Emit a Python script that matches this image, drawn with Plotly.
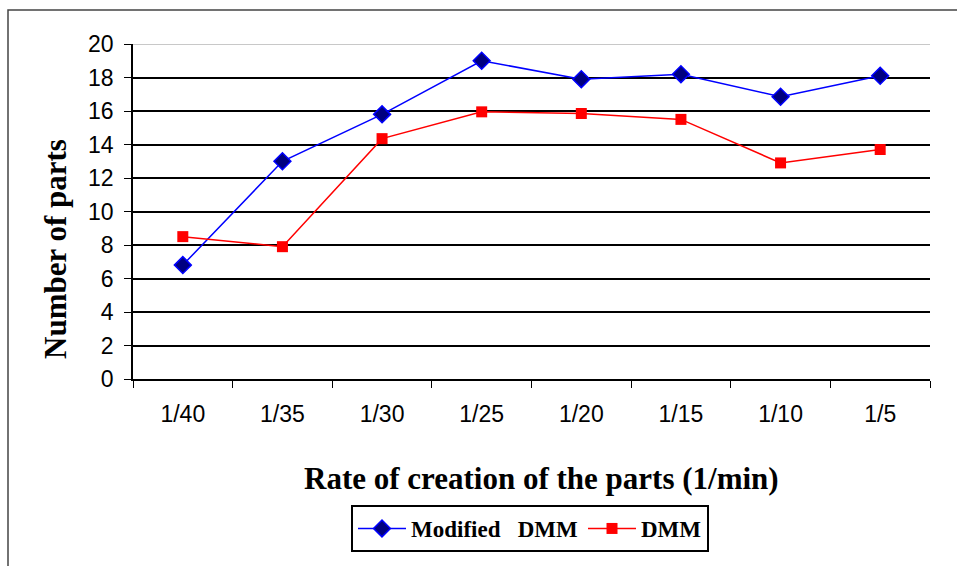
import plotly.graph_objects as go

categories = ["1/40", "1/35", "1/30", "1/25", "1/20", "1/15", "1/10", "1/5"]
modified_dmm = [6.8, 13.0, 15.8, 19.0, 17.9, 18.2, 16.85, 18.1]
dmm = [8.5, 7.9, 14.35, 15.95, 15.85, 15.5, 12.9, 13.7]
y_ticks = [0, 2, 4, 6, 8, 10, 12, 14, 16, 18, 20]

fig = go.Figure()
fig.add_trace(go.Scatter(
    x=categories, y=modified_dmm, mode="lines+markers",
    name="Modified\u00a0\u00a0\u00a0DMM",
    line=dict(color="#0000ff", width=1.5),
    marker=dict(symbol="diamond", size=13, color="#000080",
                line=dict(color="#0000ff", width=1.5)),
))
fig.add_trace(go.Scatter(
    x=categories, y=dmm, mode="lines+markers", name="DMM",
    line=dict(color="#ff0000", width=1.5),
    marker=dict(symbol="square", size=11, color="#ff0000",
                line=dict(color="#ff0000", width=0)),
))

W, H = 957, 566
L, R, T, B = 133, 27, 44, 187
pw = W - L - R
ph = H - T - B

def px_x(p):
    return (p - L) / pw

def px_y(p):
    return (H - B - p) / ph

title_font = dict(family="Liberation Serif", size=31, color="black", weight="bold")

fig.update_layout(
    width=W, height=H,
    margin=dict(l=L, r=R, t=T, b=B),
    paper_bgcolor="white", plot_bgcolor="white",
    showlegend=True,
    legend=dict(
        orientation="h", x=px_x(530), xanchor="center", y=px_y(505), yanchor="top",
        bordercolor="black", borderwidth=2, bgcolor="white",
        font=dict(family="Liberation Serif", size=23, color="black", weight="bold"),
        itemwidth=48,
    ),
    xaxis=dict(
        type="category", tickson="boundaries", ticks="outside", ticklen=7,
        tickcolor="black", showline=True, linecolor="black", linewidth=1.5,
        showgrid=False, tickfont=dict(family="Liberation Sans", size=23, color="black"),
        ticklabelstandoff=14,
        range=[-0.5, 7.5],
    ),
    yaxis=dict(
        range=[0, 20], tickvals=y_ticks, ticks="outside", ticklen=7,
        tickcolor="black", showline=True, linecolor="black", linewidth=1.5,
        showgrid=True, gridcolor="black", gridwidth=1.5, zeroline=False,
        tickfont=dict(family="Liberation Sans", size=23, color="black"),
        ticklabelstandoff=6,
    ),
    annotations=[
        dict(text="Rate of creation of the parts (1/min)", xref="paper", yref="paper",
             x=px_x(541), y=px_y(478), xanchor="center", yanchor="middle",
             showarrow=False, font=title_font),
        dict(text="Number of parts", xref="paper", yref="paper",
             x=px_x(55), y=px_y(249), xanchor="center", yanchor="middle",
             textangle=-90, showarrow=False, font=title_font),
    ],
    shapes=[
        dict(type="line", xref="paper", yref="y", x0=0, x1=1, y0=20, y1=20,
             line=dict(color="#c8c8c8", width=2), layer="above"),
        dict(type="rect", xref="paper", yref="paper",
             x0=px_x(8), x1=px_x(962), y0=px_y(571), y1=px_y(10),
             line=dict(color="#444444", width=1.5), layer="below"),
    ],
)

fig.write_html("out.html")
